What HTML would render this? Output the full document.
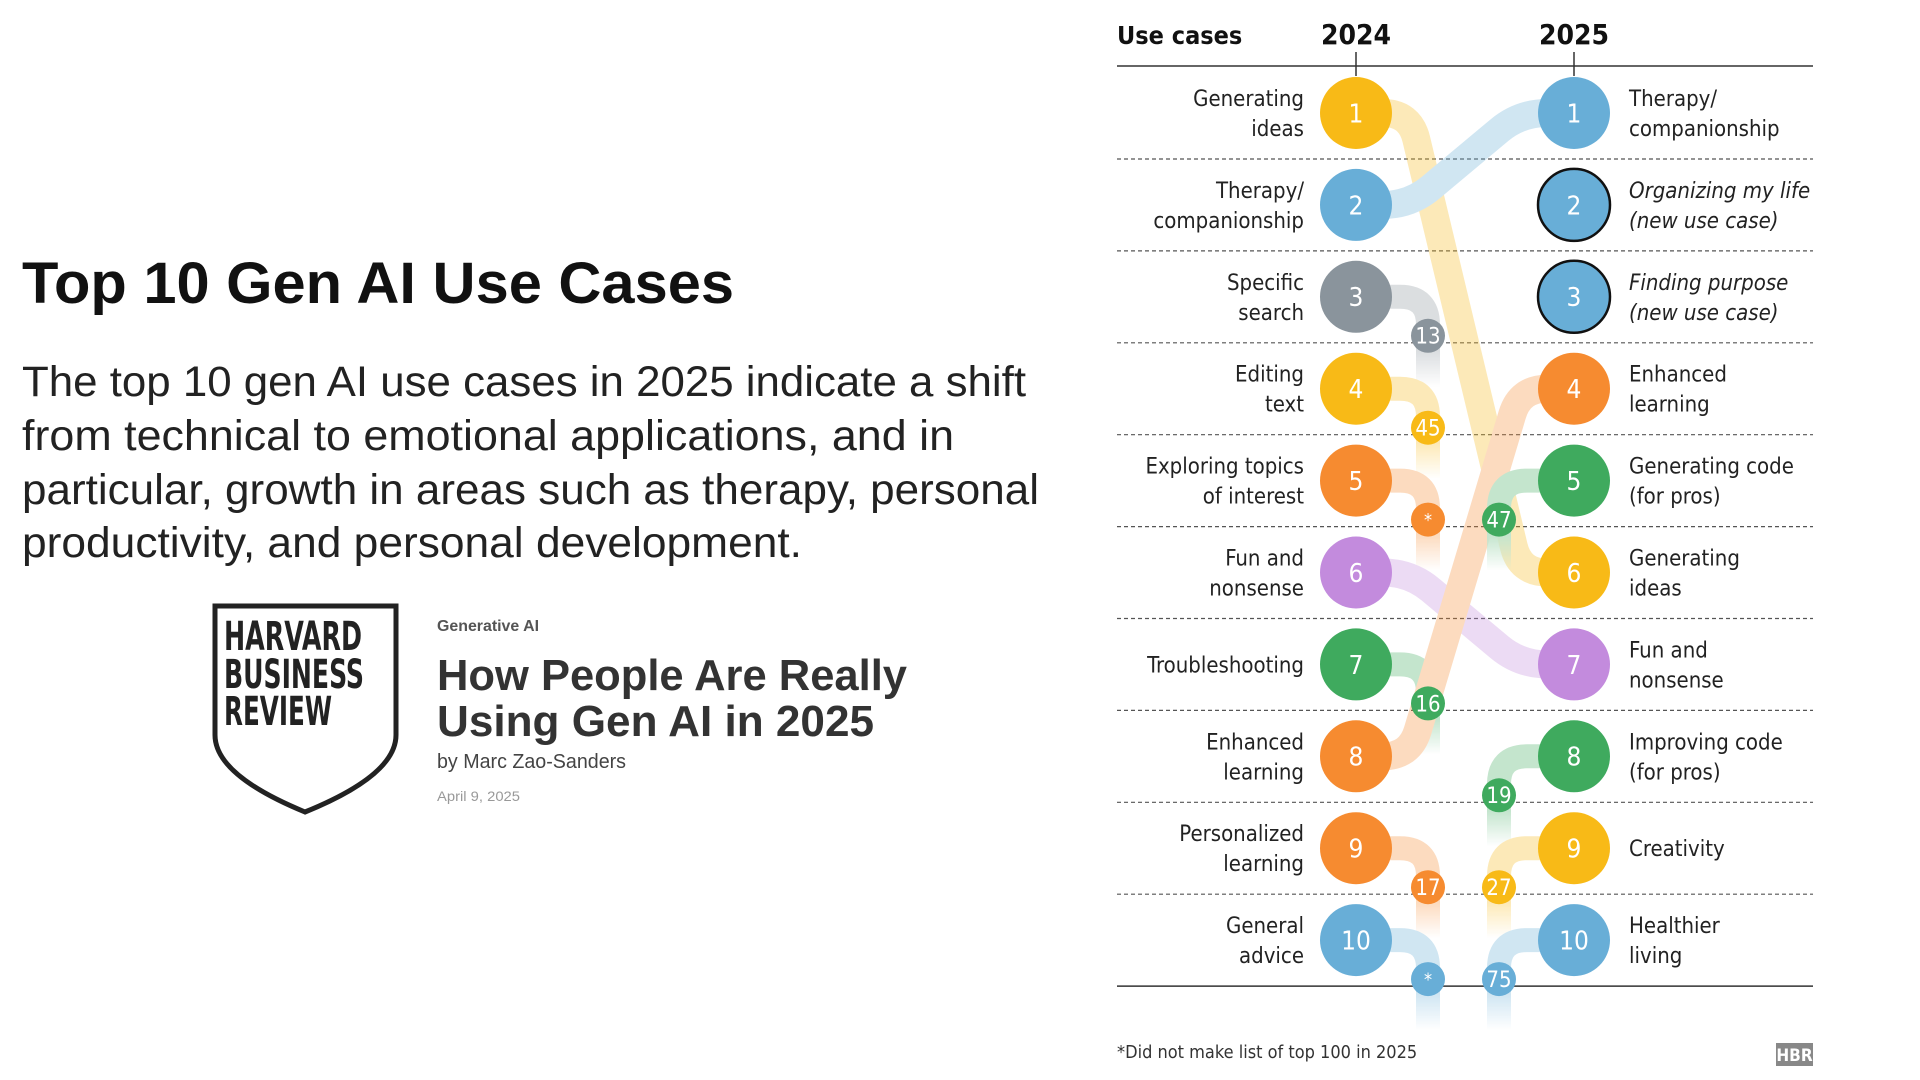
<!DOCTYPE html>
<html><head><meta charset="utf-8"><style>
html,body{margin:0;padding:0;background:#fff;}
svg{display:block;}
.cond{font-family:"Liberation Sans Narrow","DejaVu Sans Condensed","Liberation Sans",sans-serif;}
.sans{font-family:"Liberation Sans",sans-serif;}
</style></head><body>
<svg id="chart" width="1920" height="1080" viewBox="0 0 1920 1080" xmlns="http://www.w3.org/2000/svg">
<defs id="defs"></defs>
<g>
<text class="sans" x="22" y="303" font-size="58" font-weight="bold" fill="#111" textLength="712" lengthAdjust="spacingAndGlyphs">Top 10 Gen AI Use Cases</text>
<g class="sans" font-size="43" fill="#222">
<text x="22" y="396" textLength="1004" lengthAdjust="spacingAndGlyphs">The top 10 gen AI use cases in 2025 indicate a shift</text>
<text x="22" y="450" textLength="932" lengthAdjust="spacingAndGlyphs">from technical to emotional applications, and in</text>
<text x="22" y="504" textLength="1017" lengthAdjust="spacingAndGlyphs">particular, growth in areas such as therapy, personal</text>
<text x="22" y="557" textLength="780" lengthAdjust="spacingAndGlyphs">productivity, and personal development.</text>
</g>
<g>
<path d="M215,606 H396 V735 Q396,775 305,812 Q215,775 215,735 Z" fill="none" stroke="#222" stroke-width="5"/>
<g class="cond" font-weight="bold" fill="#222" font-size="40">
<text x="224" y="650" textLength="138" lengthAdjust="spacingAndGlyphs">HARVARD</text>
<text x="224" y="688" textLength="140" lengthAdjust="spacingAndGlyphs">BUSINESS</text>
<text x="224" y="725" textLength="108" lengthAdjust="spacingAndGlyphs">REVIEW</text>
</g>
</g>
<g>
<text class="sans" x="437" y="631" font-size="16" font-weight="bold" fill="#555" textLength="102" lengthAdjust="spacingAndGlyphs">Generative AI</text>
<text class="sans" x="437" y="690" font-size="44" font-weight="bold" fill="#333" textLength="470" lengthAdjust="spacingAndGlyphs">How People Are Really</text>
<text class="sans" x="437" y="736" font-size="44" font-weight="bold" fill="#333" textLength="437" lengthAdjust="spacingAndGlyphs">Using Gen AI in 2025</text>
<text class="sans" x="437" y="768" font-size="20" fill="#444" textLength="189" lengthAdjust="spacingAndGlyphs">by Marc Zao-Sanders</text>
<text class="sans" x="437" y="801" font-size="14" fill="#999" textLength="83" lengthAdjust="spacingAndGlyphs">April 9, 2025</text>
</g>
</g>
<g id="plot"></g>
</svg>
<script>
const ranks2024 = [1,2,3,4,5,6,7,8,9,10];
const labels2024 = [["Generating","ideas"],["Therapy/","companionship"],["Specific","search"],["Editing","text"],["Exploring topics","of interest"],["Fun and","nonsense"],["Troubleshooting"],["Enhanced","learning"],["Personalized","learning"],["General","advice"]];
const colors2024 = ["yellow","blue","gray","yellow","orange","purple","green","orange","orange","blue"];
const next2025 = [6,1,"13","45","*",7,"16",4,"17","*"];
const labels2025 = [["Therapy/","companionship"],["Organizing my life","(new use case)"],["Finding purpose","(new use case)"],["Enhanced","learning"],["Generating code","(for pros)"],["Generating","ideas"],["Fun and","nonsense"],["Improving code","(for pros)"],["Creativity"],["Healthier","living"]];
const colors2025 = ["blue","blue","blue","orange","green","yellow","purple","green","yellow","blue"];
const prev2024 = [2,"new","new",8,"47",1,6,"19","27","75"];

const palette = {yellow:"#F8BA17",blue:"#68AED7",gray:"#8A949C",orange:"#F68B30",green:"#3FAA5E",purple:"#C38BDD"};
const NS="http://www.w3.org/2000/svg";
const plot=document.getElementById('plot');
const defs=document.getElementById('defs');
const X24=1356, X25=1574, XM1=1428, XM2=1499, R=36, RS=17;
const yRow = r => 113 + (r-1)*91.9;
const xL=1117, xR=1813;
function el(tag,attrs,parent){const e=document.createElementNS(NS,tag);for(const k in attrs)e.setAttribute(k,attrs[k]);(parent||plot).appendChild(e);return e;}
function rounded(pts,rad){let d=`M${pts[0][0]},${pts[0][1]}`;
 for(let i=1;i<pts.length-1;i++){const p=pts[i-1],c=pts[i],n=pts[i+1];
  const l1=Math.hypot(c[0]-p[0],c[1]-p[1]),l2=Math.hypot(n[0]-c[0],n[1]-c[1]);
  const r=Math.min(rad,l1/2,l2/2);
  const a=[c[0]-(c[0]-p[0])*r/l1,c[1]-(c[1]-p[1])*r/l1],b=[c[0]+(n[0]-c[0])*r/l2,c[1]+(n[1]-c[1])*r/l2];
  d+=` L${a[0]},${a[1]} Q${c[0]},${c[1]} ${b[0]},${b[1]}`;}
 const l=pts[pts.length-1];return d+` L${l[0]},${l[1]}`;}
let gid=0;
function fadeGrad(color,y0,y1){const id='g'+(gid++);const g=el('linearGradient',{id:id,gradientUnits:'userSpaceOnUse',x1:0,y1:y0,x2:0,y2:y1},defs);
 el('stop',{offset:'0','stop-color':color,'stop-opacity':1},g);el('stop',{offset:'1','stop-color':color,'stop-opacity':0},g);return `url(#${id})`;}

const hdr=el('g',{});


let t=el('text',{x:xL,y:44,'font-size':25,'font-weight':'bold',fill:'#111',class:'cond'},hdr);t.textContent='Use cases';
t=el('text',{x:X24,y:44,'font-size':28,'font-weight':'bold',fill:'#111','text-anchor':'middle',class:'cond'},hdr);t.textContent='2024';

t=el('text',{x:X25,y:44,'font-size':28,'font-weight':'bold',fill:'#111','text-anchor':'middle',class:'cond'},hdr);t.textContent='2025';

el('line',{x1:xL,x2:xR,y1:66,y2:66,stroke:'#333','stroke-width':1.5},hdr);
el('line',{x1:X24,x2:X24,y1:52,y2:76,stroke:'#333','stroke-width':1.5},hdr);
el('line',{x1:X25,x2:X25,y1:52,y2:76,stroke:'#333','stroke-width':1.5},hdr);
const grid=el('g',{});


for(let r=1;r<=9;r++){el('line',{x1:xL,x2:xR,y1:yRow(r)+46,y2:yRow(r)+46,stroke:'#555','stroke-width':1.2,'stroke-dasharray':'4 3'},grid);}
el('line',{x1:xL,x2:xR,y1:yRow(10)+46,y2:yRow(10)+46,stroke:'#333','stroke-width':1.5},grid);

const lines=el('g',{opacity:0.3});


ranks2024.forEach((r,i)=>{const y1=yRow(r);const c=palette[colors2024[i]];const n=next2025[i];let p;
 if(typeof n==='number'){const y2=yRow(n);
  p=el('path',{d:rounded([[X24,y1],[1410,y1],[1520,y2],[X25,y2]],34),fill:'none',stroke:c,'stroke-width':28,'stroke-linecap':'butt'},lines);
 }else{const ye=y1+90;
  p=el('path',{d:rounded([[X24,y1],[XM1,y1],[XM1,ye]],28),fill:'none',stroke:fadeGrad(c,y1+55,ye),'stroke-width':24},lines);}
 
 
});
prev2024.forEach((pv,i)=>{if(typeof pv==='number'||pv==='new')return;const r=i+1,y2=yRow(r),c=palette[colors2025[i]],ye=y2+90;
 const p=el('path',{d:rounded([[XM2,ye],[XM2,y2],[X25,y2]],28),fill:'none',stroke:fadeGrad(c,y2+55,ye),'stroke-width':24},lines);
 
 
});

function label(lines_,x,y,anchor,italic,parent){const g=el('g',{},parent);
 const off=lines_.length===1?[0]:[-15,15];
 lines_.forEach((s,k)=>{const tt=el('text',{x:x,y:y+off[k]+8,'font-size':22,fill:'#222','text-anchor':anchor,class:'cond','font-style':italic?'italic':'normal'},g);tt.textContent=s;});
 return g;}
function bubble(x,y,rad,color,txt,fs,stroke,parent){const g=el('g',{},parent);
 el('circle',{cx:x,cy:y,r:rad,fill:color,stroke:stroke||'none','stroke-width':stroke?2.5:0},g);
 const tt=el('text',{x:x,y:y+fs*0.36,'font-size':fs,fill:'#fff','text-anchor':'middle',class:'cond'},g);tt.textContent=txt;return g;}

const col24=el('g',{});


ranks2024.forEach((r,i)=>{const y=yRow(r);
 const lb=label(labels2024[i],1304,y,'end',false,col24);
 
 
 const b=bubble(X24,y,R,palette[colors2024[i]],String(r),26,null,col24);
 
 
 const n=next2025[i];
 if(typeof n!=='number'){const s=bubble(XM1,y+39,RS,palette[colors2024[i]],n,n==='*'?18:22,null,col24);
  
  }
});
const col25=el('g',{});


labels2025.forEach((lab,i)=>{const r=i+1,y=yRow(r);const isNew=prev2024[i]==='new';
 const lb=label(lab,1629,y,'start',isNew,col25);
 
 
 const b=bubble(X25,y,R,palette[colors2025[i]],String(r),26,isNew?'#111':null,col25);
 
 
 const pv=prev2024[i];
 if(typeof pv==='string'&&pv!=='new'){const s=bubble(XM2,y+39,RS,palette[colors2025[i]],pv,22,null,col25);
  
  }
});
t=el('text',{x:xL,y:1058,'font-size':18,fill:'#333',class:'cond'});t.textContent='*Did not make list of top 100 in 2025';


const hb=el('g',{});


el('rect',{x:1776,y:1043,width:37,height:23,fill:'#888'},hb);
t=el('text',{x:1794.5,y:1061,'font-size':17,'font-weight':'bold',fill:'#fff','text-anchor':'middle',class:'cond'},hb);t.textContent='HBR';
</script>
</body></html>
